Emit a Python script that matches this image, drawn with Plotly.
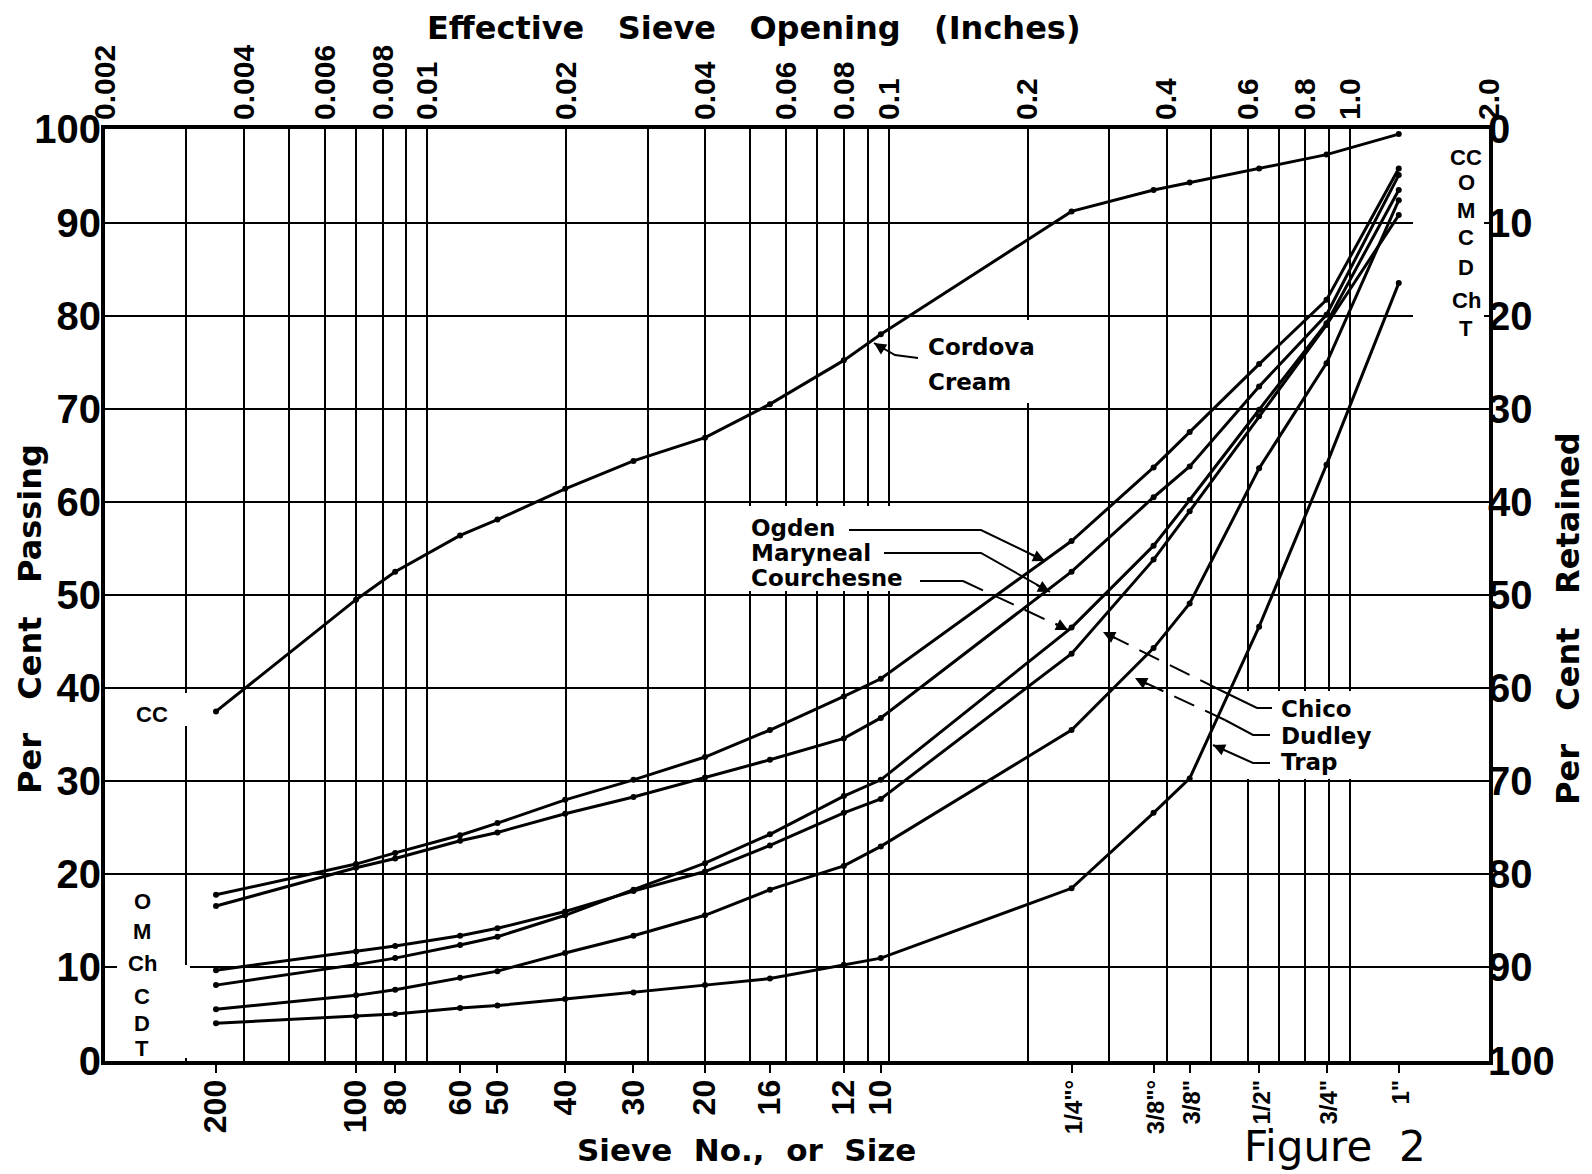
import math
import plotly.graph_objects as go

# ---------------- data ----------------
sieve_labels = ['200', '100', '80', '60', '50', '40', '30', '20', '16', '12', '10',
                '1/4"°', '3/8"°', '3/8"', '1/2"', '3/4"', '1"']
# effective sieve opening, inches (position of each sieve on the log axis)
sieve_opening_in = [0.00348, 0.0070, 0.00851, 0.01177, 0.01418, 0.01988, 0.02796,
                    0.03996, 0.05526, 0.0799, 0.0961, 0.249, 0.375, 0.449, 0.635,
                    0.889, 1.275]

cordova_cream = [37.5, 49.5, 52.5, 56.4, 58.1, 61.4, 64.4, 66.9, 70.5, 75.2, 78.0,
                 91.2, 93.5, 94.3, 95.8, 97.3, 99.5]
ogden = [17.8, 21.1, 22.3, 24.2, 25.5, 28.0, 30.15, 32.6, 35.5, 39.1, 41.0,
         55.8, 63.7, 67.5, 74.8, 81.7, 95.8]
maryneal = [16.6, 20.7, 21.7, 23.6, 24.5, 26.5, 28.3, 30.4, 32.3, 34.6, 36.8,
            52.5, 60.5, 63.8, 72.4, 80.1, 95.1]
courchesne = [8.1, 10.3, 11.0, 12.4, 13.3, 15.6, 18.35, 21.2, 24.3, 28.4, 30.15,
              46.5, 55.3, 60.2, 69.9, 79.2, 93.5]
chico = [9.7, 11.7, 12.3, 13.4, 14.2, 16.0, 18.2, 20.3, 23.1, 26.6, 28.1,
         43.7, 53.8, 59.0, 69.2, 79.0, 90.8]
dudley = [5.5, 7.0, 7.6, 8.9, 9.6, 11.55, 13.4, 15.6, 18.35, 20.9, 23.0,
          35.5, 44.3, 49.1, 63.6, 74.9, 92.4]
trap = [4.0, 4.75, 5.0, 5.65, 5.9, 6.6, 7.3, 8.1, 8.8, 10.3, 11.0,
        18.5, 26.6, 30.3, 46.6, 64.0, 83.5]

top_tick_vals = [0.002, 0.004, 0.006, 0.008, 0.01, 0.02, 0.04, 0.06, 0.08, 0.1,
                 0.2, 0.4, 0.6, 0.8, 1.0, 2.0]
top_tick_text = ['0.002', '0.004', '0.006', '0.008', '0.01', '0.02', '0.04', '0.06',
                 '0.08', '0.1', '0.2', '0.4', '0.6', '0.8', '1.0', '2.0']
grid_vals = [0.003, 0.004, 0.005, 0.006, 0.007, 0.008, 0.009, 0.01,
             0.02, 0.03, 0.04, 0.05, 0.06, 0.07, 0.08, 0.09, 0.1,
             0.2, 0.3, 0.4, 0.5, 0.6, 0.7, 0.8, 0.9, 1.0]
passing_ticks = [0, 10, 20, 30, 40, 50, 60, 70, 80, 90, 100]
retained_text = [str(100 - v) for v in passing_ticks]

# ---------------- geometry ----------------
OFF = 8                      # page body margin of the html page
W, H = 1584, 1166
PLOT_L, PLOT_R, PLOT_T, PLOT_B = 105, 1489, 129, 1061   # on-screen plot frame
L, T = PLOT_L - OFF, PLOT_T - OFF
R, B = W - (PLOT_R - OFF), H - (PLOT_B - OFF)
PW, PH = PLOT_R - PLOT_L, PLOT_B - PLOT_T
NUM = "Liberation Sans, Arial, sans-serif"
LET = "DejaVu Sans, Verdana, sans-serif"


def px(x):
    return (x - PLOT_L) / PW


def py(y):
    return (PLOT_B - y) / PH


# fraction sizes are lettered smaller than the sieve numbers
bottom_ticktext = [t if t.isdigit() else f'<span style="font-size:24px">{t}</span>'
                   for t in sieve_labels]

fig = go.Figure()

series = [("Cordova Cream", cordova_cream), ("Ogden", ogden), ("Maryneal", maryneal),
          ("Courchesne", courchesne), ("Chico", chico), ("Dudley", dudley), ("Trap", trap)]
for name, vals in series:
    fig.add_trace(go.Scatter(
        x=sieve_opening_in, y=vals, name=name, mode="lines+markers",
        line=dict(color="black", width=3), marker=dict(color="black", size=6),
        showlegend=False, xaxis="x", yaxis="y"))

# helper traces so that the overlay axes are drawn
fig.add_trace(go.Scatter(x=[0.002, 2.0], y=[None, None], xaxis="x2", yaxis="y",
                         showlegend=False, hoverinfo="skip"))
fig.add_trace(go.Scatter(x=[0.002, 2.0], y=[None, None], xaxis="x3", yaxis="y",
                         showlegend=False, hoverinfo="skip"))
fig.add_trace(go.Scatter(x=[0.002, 2.0], y=[None, None], xaxis="x", yaxis="y2",
                         showlegend=False, hoverinfo="skip"))

xr = [math.log10(0.002) - 1e-4, math.log10(2.0) + 1e-4]
numbold = dict(family=NUM, color="black", weight="bold")

fig.update_layout(
    width=W, height=H,
    margin=dict(l=L, r=R, t=T, b=B, autoexpand=False),
    paper_bgcolor="white", plot_bgcolor="white",
    xaxis=dict(type="log", range=xr, tickvals=sieve_opening_in, ticktext=bottom_ticktext,
               tickangle=-90, ticks="outside", ticklen=8, tickwidth=2, tickcolor="black",
               showgrid=False, zeroline=False, showline=True, linewidth=4,
               linecolor="black", mirror=True, automargin=False, ticklabelstandoff=-6,
               tickfont=dict(size=32, **numbold)),
    xaxis2=dict(type="log", range=xr, overlaying="x", side="top", anchor="y",
                tickvals=top_tick_vals, ticktext=top_tick_text, tickangle=-90,
                ticks="", showgrid=False, zeroline=False, showline=False,
                automargin=False, ticklabelstandoff=8,
                tickfont=dict(size=30, **numbold)),
    xaxis3=dict(type="log", range=xr, overlaying="x", anchor="y", tickvals=grid_vals,
                showticklabels=False, ticks="", showgrid=True, gridcolor="black",
                gridwidth=2, zeroline=False, showline=False),
    yaxis=dict(range=[-0.05, 100.05], tickvals=passing_ticks, ticks="",
               showgrid=True, gridcolor="black", gridwidth=2, zeroline=False,
               showline=True, linewidth=4, linecolor="black", mirror=True,
               automargin=False, ticklabelstandoff=-8,
               tickfont=dict(size=40, **numbold)),
    yaxis2=dict(range=[-0.05, 100.05], overlaying="y", side="right", anchor="x",
                tickvals=passing_ticks, ticktext=retained_text, ticks="",
                showgrid=False, zeroline=False, showline=False, automargin=False,
                ticklabelstandoff=-2, tickfont=dict(size=40, **numbold)),
)

# ---------------- white masks behind the lettering (screen px) ----------------
masks = [
    (1413, 142, 1484, 335),   # right column letters
    (117, 965, 190, 1058),    # left column letters
    (130, 693, 193, 726),     # left "CC"
    (918, 320, 1045, 403),    # Cordova Cream
    (745, 506, 912, 591),     # Ogden / Maryneal / Courchesne
    (1239, 691, 1366, 779),   # Chico / Dudley / Trap
]
shapes = []
for x0, y0, x1, y1 in masks:
    shapes.append(dict(type="rect", xref="paper", yref="paper", x0=px(x0), x1=px(x1),
                       y0=py(y1), y1=py(y0), fillcolor="white", line=dict(width=0),
                       layer="above"))

# leader lines (screen px)
solid_leaders = [
    [(918, 358), (895, 355), (874, 343)],
    [(849, 530), (981, 530), (1045, 561)],
    [(884, 553), (981, 553), (1050, 592)],
    [(920, 581), (963, 581)],
    [(1272, 708), (1257, 708), (1220, 690)],
    [(1270, 735), (1253, 735), (1225, 720)],
    [(1270, 763), (1253, 763), (1213, 745)],
]
dashed_leaders = [
    [(963, 581), (1068, 630)],
    [(1220, 690), (1103, 632)],
    [(1225, 720), (1135, 678)],
]
for pts in solid_leaders:
    path = "M " + " L ".join(f"{px(x)},{py(y)}" for x, y in pts)
    shapes.append(dict(type="path", xref="paper", yref="paper", path=path,
                       line=dict(color="black", width=2), layer="above"))
for pts in dashed_leaders:
    path = "M " + " L ".join(f"{px(x)},{py(y)}" for x, y in pts)
    shapes.append(dict(type="path", xref="paper", yref="paper", path=path,
                       line=dict(color="black", width=2, dash="22px,12px"), layer="above"))
fig.update_layout(shapes=shapes)

annotations = []
# arrowheads at leader ends
arrow_ends = [((874, 343), (885, 350)), ((1045, 561), (1030, 554)),
              ((1050, 592), (1035, 584)), ((1068, 630), (1054, 623)),
              ((1103, 632), (1117, 639)), ((1135, 678), (1149, 685)),
              ((1213, 745), (1222, 749))]
for (xe, ye), (xt, yt) in arrow_ends:
    annotations.append(dict(xref="paper", yref="paper", x=px(xe), y=py(ye), text="",
                            showarrow=True, arrowhead=2, arrowsize=1.2, arrowwidth=2,
                            arrowcolor="black", ax=xt - xe, ay=yt - ye))


def label(text, x, y, size, xanchor="left", yanchor="middle", weight="bold",
          angle=0, family=LET):
    annotations.append(dict(xref="paper", yref="paper", x=px(x), y=py(y), text=text,
                            showarrow=False, xanchor=xanchor, yanchor=yanchor,
                            textangle=angle,
                            font=dict(family=family, size=size, color="black",
                                      weight=weight)))


nb = "\u00a0"
label(f"Effective{nb*3}Sieve{nb*3}Opening{nb*3}(Inches)", 754, 28, 32, "center")
label(f"Per{nb*3}Cent{nb*3}Passing", 30, 619, 32, "center", angle=-90)
label(f"Per{nb*3}Cent{nb*3}Retained", 1568, 619, 32, "center", angle=-90)
label(f"Sieve{nb*2}No.,{nb*2}or{nb*2}Size", 746, 1150, 31, "center")
label(f"Figure{nb*2}2", 1335, 1146, 42, "center", weight="normal")

label("Cordova", 926, 347, 23)
label("Cream", 926, 382, 23)
label("Ogden", 749, 528, 23)
label("Maryneal", 749, 553, 23)
label("Courchesne", 749, 578, 23)
label("Chico", 1279, 709, 23)
label("Dudley", 1279, 736, 23)
label("Trap", 1279, 762, 23)

label("CC", 152, 715, 22, "center", family=NUM)
for t, y in zip(["O", "M", "Ch", "C", "D", "T"], [901, 931, 963, 996, 1023, 1048]):
    label(t, 142, y, 22, "center", family=NUM)
for t, y in zip(["CC", "O", "M", "C", "D", "Ch", "T"], [157, 183, 210, 238, 267, 301, 328]):
    label(t, 1466, y, 22, "center", family=NUM)

fig.update_layout(annotations=annotations)

fig.write_html("out.html")
